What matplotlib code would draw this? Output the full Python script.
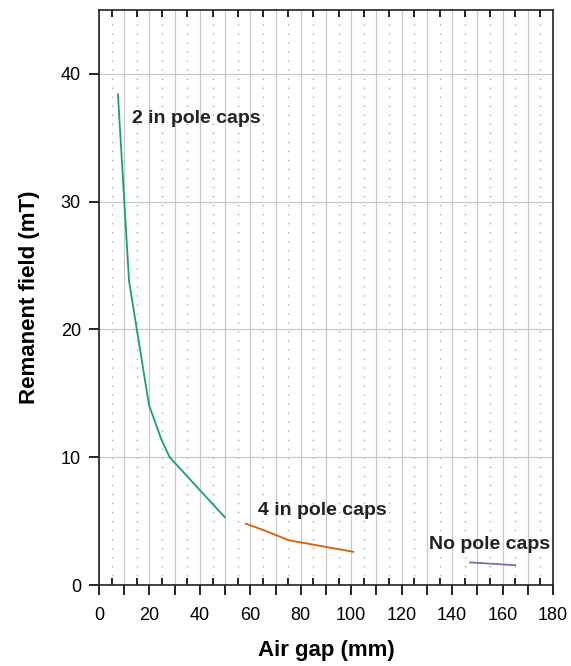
import matplotlib
matplotlib.use("Agg")
import matplotlib.pyplot as plt
from matplotlib.ticker import MultipleLocator, FuncFormatter

plt.rcParams["font.family"] = ["Liberation Sans Narrow", "Liberation Sans", "DejaVu Sans"]

# data
gap_2caps = [7.5, 11.9, 19.8, 24.7, 28.0, 49.9]
field_2caps = [38.4, 23.8, 14.1, 11.4, 10.0, 5.3]
gap_4caps = [58.2, 65.2, 75.3, 100.8]
field_4caps = [4.8, 4.3, 3.5, 2.6]
gap_nocaps = [147.1, 165.0]
field_nocaps = [1.77, 1.55]

labels = ["2 in pole caps", "4 in pole caps", "No pole caps"]
label_pos = [(13, 36.5), (63, 5.8), (131, 3.2)]
colors = ["#1b9e77", "#d95f02", "#7570b3"]

fig = plt.figure(figsize=(5.71, 6.66), dpi=100)
ax = fig.add_axes([0.1734, 0.1216, 0.7951, 0.8634])

series = [(gap_2caps, field_2caps), (gap_4caps, field_4caps), (gap_nocaps, field_nocaps)]
for (x, y), c in zip(series, colors):
    ax.plot(x, y, color=c, lw=1.3, zorder=3)

for txt, (tx, ty) in zip(labels, label_pos):
    ax.text(tx, ty, txt, fontsize=14, fontweight="bold", color="#222222",
            va="center", ha="left", zorder=4)

ax.set_xlim(0, 180)
ax.set_ylim(0, 45)

ax.xaxis.set_major_locator(MultipleLocator(10))
ax.xaxis.set_minor_locator(MultipleLocator(5))
ax.xaxis.set_major_formatter(FuncFormatter(lambda v, p: f"{int(v)}" if int(v) % 20 == 0 else ""))
ax.yaxis.set_major_locator(MultipleLocator(10))

ax.tick_params(axis="x", which="major", direction="out", length=7, width=1.2, labelsize=13, pad=9)
ax.tick_params(axis="x", which="minor", direction="in", length=5, width=1.2, top=True, bottom=True)
ax.tick_params(axis="y", which="major", direction="out", length=7, width=1.2, labelsize=13, pad=6)

ax.grid(True, axis="y", which="major", color="#c8c8c8", lw=0.9)
ax.grid(True, axis="x", which="major", color="#c8c8c8", lw=0.9)
ax.grid(True, axis="x", which="minor", color="#a8a8a8", lw=1.0, linestyle=(0, (1, 5.5)))
ax.set_axisbelow(True)

for s in ax.spines.values():
    s.set_linewidth(1.2)
    s.set_color("#222222")

ax.set_xlabel("Air gap (mm)", fontsize=16, fontweight="bold", labelpad=11)
ax.set_ylabel("Remanent field (mT)", fontsize=16, fontweight="bold", labelpad=15)

fig.savefig("out.png", dpi=100)
